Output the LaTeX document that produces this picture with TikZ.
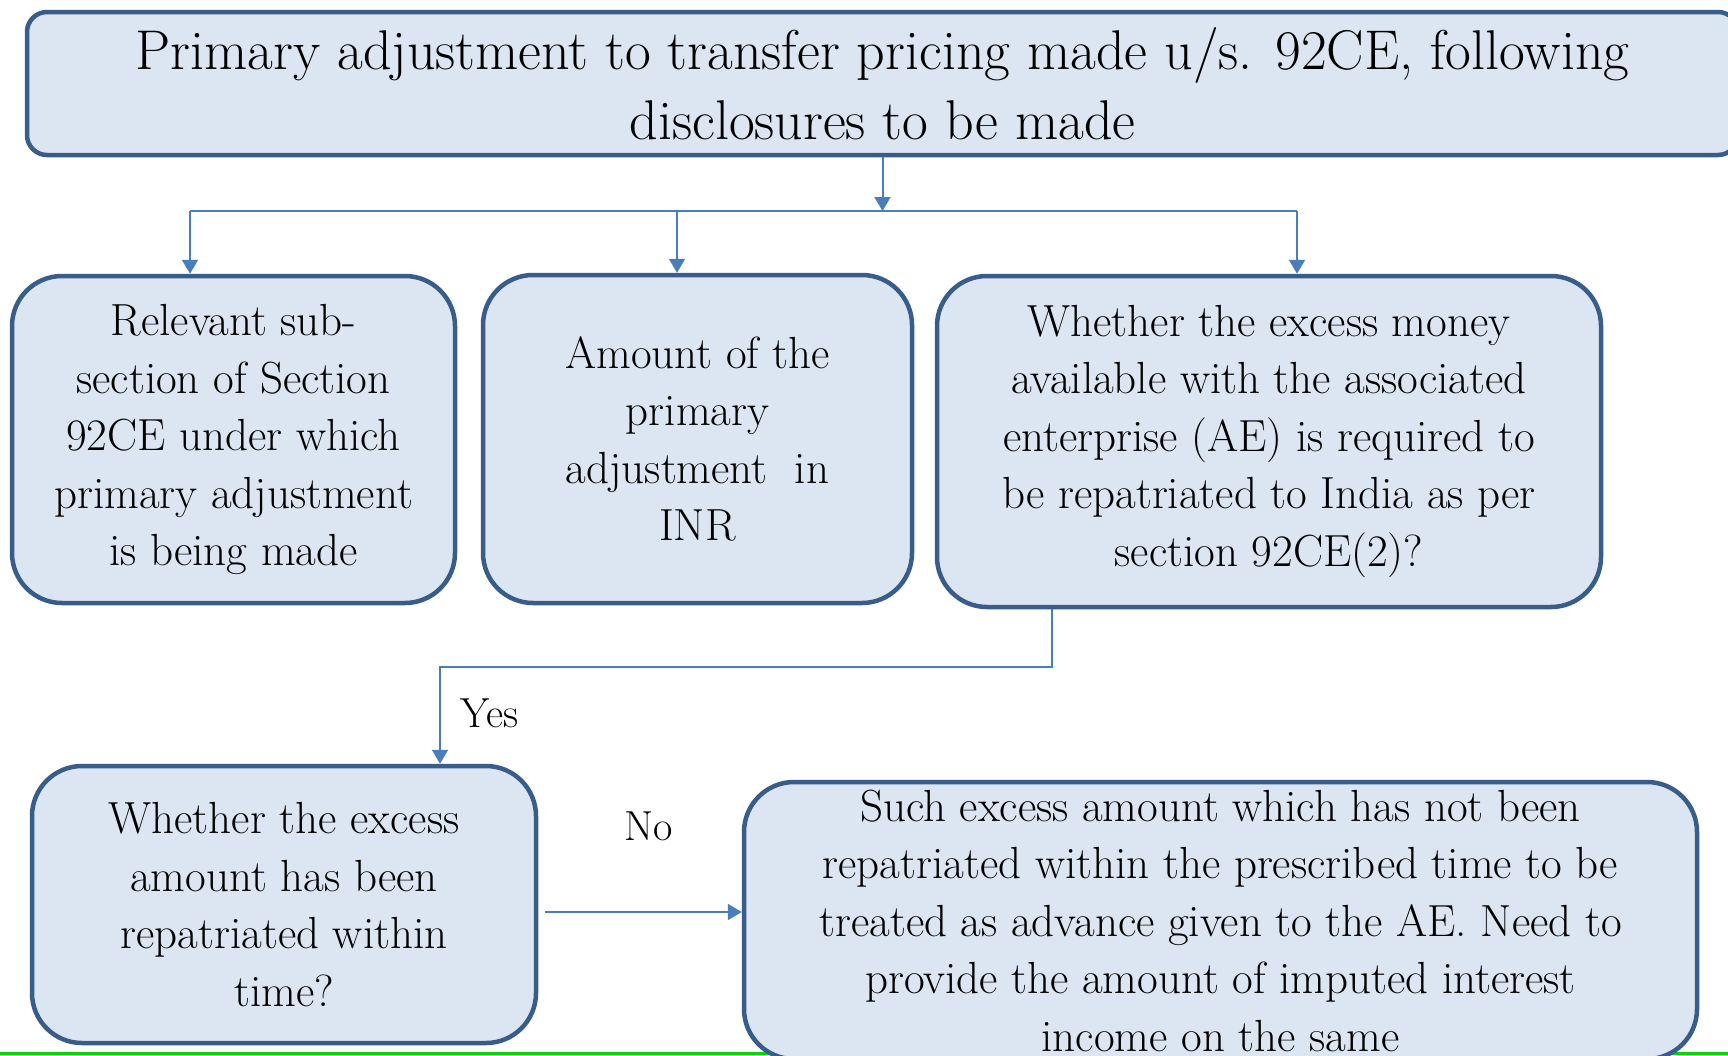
\documentclass[tikz,border=0pt]{standalone}
\usepackage{tikz}
\usetikzlibrary{arrows.meta,calc}
\definecolor{boxline}{HTML}{385D8A}
\definecolor{boxfill}{HTML}{DCE6F2}
\definecolor{arrline}{HTML}{4A7EBB}
\definecolor{slidegreen}{HTML}{11CC11}
\tikzset{
    flowbox/.style={draw=boxline, fill=boxfill, line width=4.5pt, rounded corners=50pt, inner sep=0pt, align=center, font=\fontsize{45}{57.5}\selectfont},
    link/.style={draw=arrline, line width=2pt},
    arr/.style={link, -{Triangle[width=16pt,length=14pt]}},
    branchtxt/.style={inner sep=0pt, font=\fontsize{42}{50}\selectfont}}

\begin{document}
\begin{tikzpicture}[x=1pt,y=-1pt]
\clip (0,0) rectangle (1728,1055);
\fill[white] (0,0) rectangle (1728,1055);
\draw[slidegreen, line width=3pt] (0,1053) -- (1728,1053);

% boxes
\node[flowbox, rounded corners=20pt, minimum width=1711pt, minimum height=143pt, font=\fontsize{56}{70}\selectfont] (top) at (882.5,83.5) {Primary adjustment to transfer pricing made u/s. 92CE, following\\disclosures to be made};
\node[flowbox, minimum width=443pt, minimum height=327pt] (sub) at (233.5,439.5) {Relevant sub-\\section of Section\\92CE under which\\primary adjustment\\is being made};
\node[flowbox, minimum width=429pt, minimum height=328pt] (amt) at (697.5,439) {Amount of the\\primary\\adjustment\ \ in\\INR};
\node[flowbox, minimum width=664pt, minimum height=331pt] (repat) at (1269,441.5) {Whether the excess money\\available with the associated\\enterprise (AE) is required to\\be repatriated to India as per\\section 92CE(2)?};
\node[flowbox, minimum width=504pt, minimum height=277pt] (within) at (284,904.5) {Whether the excess\\amount has been\\repatriated within\\time?};
\node[flowbox, minimum width=953pt, minimum height=277pt] (adv) at (1220.5,920.5) {Such excess amount which has not been\\repatriated within the prescribed time to be\\treated as advance given to the AE. Need to\\provide the amount of imputed interest\\income on the same};

% fork from the top box
\coordinate (fork) at (882.5,211);
\coordinate (fa) at (190,211);
\coordinate (fb) at (677,211);
\coordinate (fc) at (1297,211);
\draw[arr] (top.south) -- (fork);
\draw[link] (fa) -- (fc);
\foreach \f/\b in {fa/sub, fb/amt, fc/repat}
  \draw[arr] (\f) -- (\f |- \b.north);

% yes / no branches
\coordinate (yc) at (1052,667);
\coordinate (yw) at (440,667);
\draw[arr] (repat.south -| yc) -- (yc) -- (yw) -- (yw |- within.north);
\node[branchtxt, anchor=base west] (yes) at (460,727) {Yes};
\node[branchtxt, anchor=base] (no) at (649,840) {No};
\coordinate (nw) at (545,912);
\draw[arr] (nw) -- (nw -| adv.west);
\end{tikzpicture}
\end{document}
